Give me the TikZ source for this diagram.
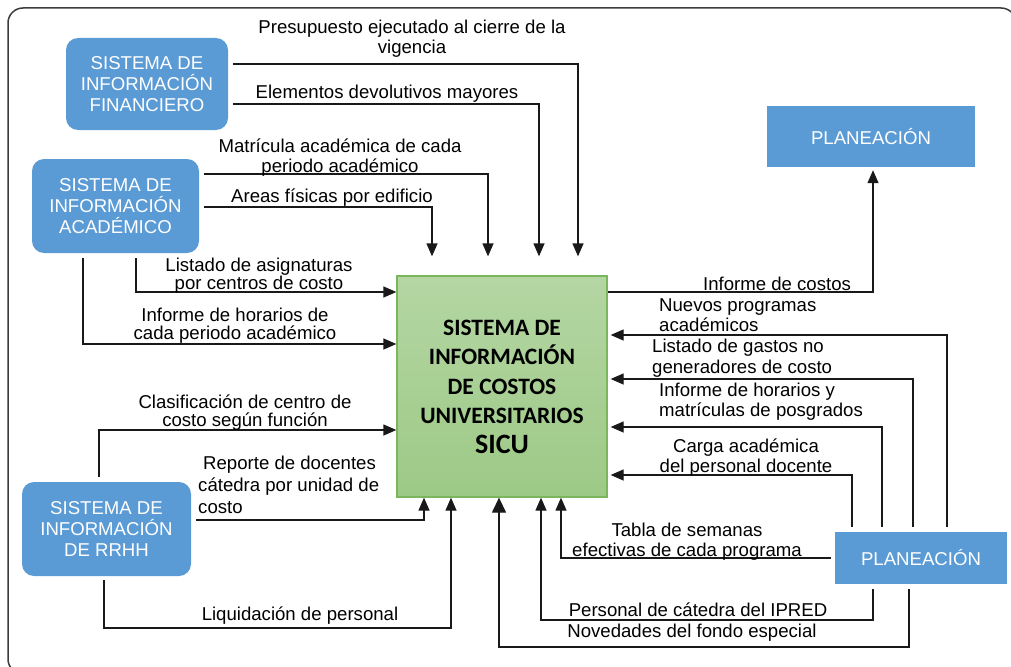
\documentclass[tikz,border=0pt]{standalone}
\usepackage{fontspec}
\setmainfont{Liberation Sans}
\newfontfamily\calfont{Carlito}
\usetikzlibrary{arrows.meta}
\definecolor{boxblue}{RGB}{91,155,213}
\definecolor{gtop}{RGB}{180,214,163}
\definecolor{gbot}{RGB}{157,201,134}
\definecolor{gborder}{RGB}{122,182,92}
\definecolor{framegray}{RGB}{60,60,60}
\definecolor{linegray}{RGB}{25,25,25}
\begin{document}
\begin{tikzpicture}[x=1pt,y=-1pt,
  lbl/.style={inner sep=0pt,align=center,font=\fontsize{18.6}{20}\selectfont},
  lblt/.style={lbl,font=\fontsize{18.6}{18}\selectfont},
  lbll/.style={inner sep=0pt,align=left,anchor=west,font=\fontsize{18.6}{20.5}\selectfont},
  bluebox/.style={fill=boxblue,text=white,inner sep=0pt,align=center,font=\fontsize{18.6}{21}\selectfont},
  roundbox/.style={bluebox,rounded corners=12pt},
  conn/.style={draw=linegray,line width=1.3pt,-{Triangle[length=13pt,width=11pt]}},
  bigconn/.style={conn,-{Triangle[length=15pt,width=14pt]}}
]
\useasboundingbox (0,0) rectangle (1011,666);
\begin{scope}
\clip (0,0) rectangle (1011,666);
\draw[framegray,line width=1.5pt,rounded corners=15pt] (8,8) rectangle (1016,674);
\end{scope}

% boxes
\node[roundbox,minimum width=162pt,minimum height=92pt] (fin) at (147,84) {SISTEMA DE\\INFORMACIÓN\\FINANCIERO};
\node[roundbox,minimum width=167pt,minimum height=94pt] (acad) at (115.5,206) {SISTEMA DE\\INFORMACIÓN\\ACADÉMICO};
\node[roundbox,minimum width=169pt,minimum height=94pt] (rrhh) at (106.5,529) {SISTEMA DE\\INFORMACIÓN\\DE RRHH};
\node[bluebox,minimum width=208pt,minimum height=61pt] (plan1) at (871,136.5) {PLANEACIÓN};
\node[bluebox,minimum width=172pt,minimum height=52pt] (plan2) at (921,558) {PLANEACIÓN};
\node[draw=gborder,line width=1.3pt,top color=gtop,bottom color=gbot,minimum width=210pt,minimum height=221pt,inner sep=0pt,align=center,
  font=\calfont\bfseries\fontsize{23.5}{29.5}\selectfont] (sicu) at (502,386.5)
  {SISTEMA DE\\INFORMACIÓN\\DE COSTOS\\UNIVERSITARIOS\\{\fontsize{28}{32}\selectfont SICU}};

% connectors into SICU from the top
\draw[conn,shorten <=5pt,shorten >=19pt] (fin.east |- 0,64) -| (sicu.north -| 578,0);
\draw[conn,shorten <=5pt,shorten >=19pt] (fin.east |- 0,104) -| (sicu.north -| 539,0);
\draw[conn,shorten <=5pt,shorten >=19pt] (acad.east |- 0,174) -| (sicu.north -| 488,0);
\draw[conn,shorten <=5pt,shorten >=19pt] (acad.east |- 0,207) -| (sicu.north -| 432,0);
% from the left
\draw[conn,shorten <=5pt] (acad.south -| 136,0) |- (sicu.west |- 0,292);
\draw[conn,shorten <=5pt] (acad.south -| 83,0) |- (sicu.west |- 0,344);
\draw[conn,shorten <=5pt] (rrhh.north -| 99,0) |- (sicu.west |- 0,430);
\draw[conn,shorten <=5pt] (rrhh.east |- 0,520) -| (sicu.south -| 424,0);
\draw[conn,shorten <=4pt] (rrhh.south -| 104,0) |- (451,628) -- (sicu.south -| 451,0);
% to / from planeacion
\draw[conn,shorten >=3pt] (sicu.east |- 0,292) -| (plan1.south -| 873,0);
\draw[conn,shorten <=5pt,shorten >=3pt] (plan2.north -| 947,0) |- (sicu.east |- 0,335);
\draw[conn,shorten <=5pt,shorten >=3pt] (plan2.north -| 913,0) |- (sicu.east |- 0,379);
\draw[conn,shorten <=5pt,shorten >=3pt] (plan2.north -| 882,0) |- (sicu.east |- 0,427);
\draw[conn,shorten <=5pt,shorten >=3pt] (plan2.north -| 852,0) |- (sicu.east |- 0,475);
\draw[conn,shorten <=4pt] (plan2.west |- 0,558) -| (sicu.south -| 561,0);
\draw[conn,shorten <=5pt] (plan2.south -| 873,0) |- (541,620) -- (sicu.south -| 541,0);
\draw[bigconn,shorten <=5pt] (plan2.south -| 909,0) |- (499,647) -- (sicu.south -| 499,0);

% labels
\node[lbl] (l1) at (412,39) {Presupuesto ejecutado al cierre de la\\vigencia};
\node[lbl] (l2) at (387,94) {Elementos devolutivos mayores};
\node[lbl] (l3) at (340,157.5) {Matrícula académica de cada\\periodo académico};
\node[lbl] (l4) at (332,198) {Areas físicas por edificio};
\node[lblt] (l5) at (259,275.5) {Listado de asignaturas\\por centros de costo};
\node[lblt] (l6) at (235,326) {Informe de horarios de\\cada periodo académico};
\node[lblt] (l7) at (245,413) {Clasificación de centro de\\costo según función};
\node[lbll,font=\fontsize{18.6}{22}\selectfont] (l8) at (198,485) {\hspace*{5pt}Reporte de docentes\\cátedra por unidad de\\costo};
\node[lbl] (l9) at (300,616) {Liquidación de personal};
\node[lbl] (l10) at (777,284) {Informe de costos};
\node[lbll] (l11) at (659,315) {Nuevos programas\\académicos};
\node[lbll] (l12) at (652,358) {Listado de gastos no\\generadores de costo};
\node[lbll] (l13) at (659,401.5) {Informe de horarios y\\matrículas de posgrados};
\node[lbl] (l14) at (746,458) {Carga académica\\del personal docente};
\node[lbl] (l15) at (687,541.5) {Tabla de semanas\\efectivas de cada programa};
\node[lbl] (l16) at (698,610) {Personal de cátedra del IPRED};
\node[lbl] (l17) at (692,633) {Novedades del fondo especial};
\end{tikzpicture}
\end{document}
